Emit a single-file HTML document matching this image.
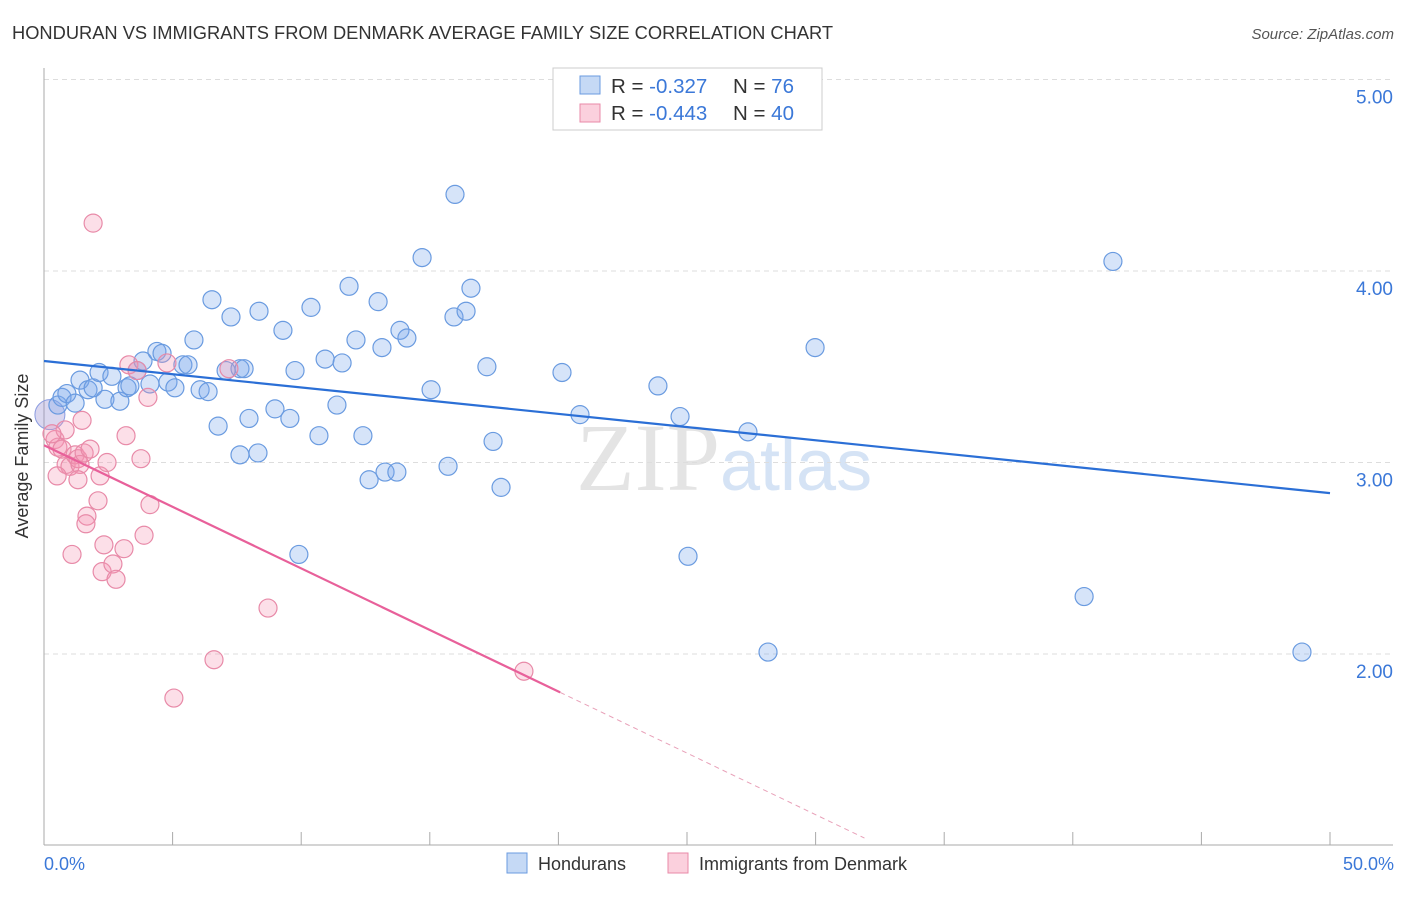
<!DOCTYPE html>
<html><head><meta charset="utf-8"><style>
body{margin:0;background:#fff;font-family:"Liberation Sans",sans-serif;}
</style></head><body>
<svg id="c" width="1406" height="892" xmlns="http://www.w3.org/2000/svg">
<text x="12" y="39" font-size="18.3" fill="#333">HONDURAN VS IMMIGRANTS FROM DENMARK AVERAGE FAMILY SIZE CORRELATION CHART</text>
<text x="1394" y="39" font-size="15" fill="#555" font-style="italic" text-anchor="end">Source: ZipAtlas.com</text>
<text x="720" y="490" font-size="96" font-family="Liberation Serif" fill="#e4e4e4" text-anchor="end">ZIP</text>
<text x="720" y="490" font-size="72" fill="#d5e3f5">atlas</text>
<g id="grid"></g><g id="axes"></g><g id="pts"></g><g id="lines"></g>
<text x="28" y="456" font-size="18" fill="#333" text-anchor="middle" transform="rotate(-90 28 456)">Average Family Size</text>
<text x="44" y="870" font-size="18" fill="#3b78d8">0.0%</text>
<text x="1394" y="870" font-size="18" fill="#3b78d8" text-anchor="end">50.0%</text>
<g>
<rect x="553" y="68" width="269" height="62" fill="#fff" stroke="#ccc"/>
<rect x="580" y="76" width="20" height="18" fill="#c5d9f5" stroke="#6a9be0"/>
<rect x="580" y="104" width="20" height="18" fill="#fbd0dd" stroke="#e88aa8"/>
<text x="611" y="93" font-size="20.5" fill="#333">R = <tspan fill="#3b78d8">-0.327</tspan><tspan x="733">N = </tspan><tspan fill="#3b78d8">76</tspan></text>
<text x="611" y="120" font-size="20.5" fill="#333">R = <tspan fill="#3b78d8">-0.443</tspan><tspan x="733">N = </tspan><tspan fill="#3b78d8">40</tspan></text>
</g>
<g>
<rect x="507" y="853" width="20" height="20" fill="#c5d9f5" stroke="#6a9be0"/>
<text x="538" y="870" font-size="18" fill="#333">Hondurans</text>
<rect x="668" y="853" width="20" height="20" fill="#fbd0dd" stroke="#e88aa8"/>
<text x="699" y="870" font-size="18" fill="#333">Immigrants from Denmark</text>
</g>
</svg>
<script>
const yTicks=[5,4,3,2];
const yTickLabels=["5.00","4.00","3.00","2.00"];
const xTicks=[0,5,10,15,20,25,30,35,40,45,50];
const blueX=[0.54,0.70,0.89,1.21,1.40,1.71,1.91,2.14,2.37,2.64,2.95,3.23,3.34,3.62,3.85,4.12,4.39,4.59,4.82,5.09,5.40,5.60,5.83,6.07,6.38,6.53,6.77,7.08,7.27,7.62,7.78,7.97,7.62,8.36,8.32,8.98,9.29,9.56,9.76,10.38,10.69,10.93,11.39,11.59,11.86,12.13,12.40,12.64,12.99,13.14,13.26,13.72,13.84,14.11,14.70,15.05,15.71,15.94,15.98,16.41,16.60,17.22,17.46,17.77,20.14,20.84,23.87,24.73,25.04,27.37,28.15,29.98,40.44,41.56,48.91,9.91];
const blueY=[3.30,3.34,3.36,3.31,3.43,3.38,3.39,3.47,3.33,3.45,3.32,3.39,3.40,3.48,3.53,3.41,3.58,3.57,3.42,3.39,3.51,3.51,3.64,3.38,3.37,3.85,3.19,3.48,3.76,3.49,3.49,3.23,3.04,3.79,3.05,3.28,3.69,3.23,3.48,3.81,3.14,3.54,3.30,3.52,3.92,3.64,3.14,2.91,3.84,3.60,2.95,2.95,3.69,3.65,4.07,3.38,2.98,3.76,4.40,3.79,3.91,3.50,3.11,2.87,3.47,3.25,3.40,3.24,2.51,3.16,2.01,3.60,2.30,4.05,2.01,2.52];
const pinkX=[0.43,0.54,0.70,0.82,0.86,1.01,1.09,1.21,1.32,1.40,1.48,1.56,1.67,1.79,1.32,0.51,2.10,2.18,2.26,2.33,2.45,2.68,2.80,3.11,3.19,3.30,3.62,3.77,3.89,4.04,4.12,4.78,5.05,6.61,7.19,8.71,18.66,1.91,1.63,0.31];
const pinkY=[3.12,3.08,3.07,3.17,2.99,2.98,2.52,3.04,3.02,2.99,3.22,3.05,2.72,3.07,2.91,2.93,2.80,2.93,2.43,2.57,3.00,2.47,2.39,2.55,3.14,3.51,3.48,3.02,2.62,3.34,2.78,3.52,1.77,1.97,3.49,2.24,1.91,4.25,2.68,3.15];
const blueTrend=[3.53,2.84];
const pinkTrend=[3.09,-0.0643];
const pinkSolidEnd=20.07, pinkDashEnd=31.9;
const NS="http://www.w3.org/2000/svg";
const X=v=>44+v/50*1286;
const Y=v=>271-(v-4)*191.5;
function mk(p,t,a){const e=document.createElementNS(NS,t);for(const k in a)e.setAttribute(k,a[k]);p.appendChild(e);return e;}
const grid=document.getElementById('grid'),axes=document.getElementById('axes'),pts=document.getElementById('pts'),lines=document.getElementById('lines');
yTicks.forEach((t,i)=>{
 const l=mk(grid,'line',{x1:44,x2:1393,y1:Y(t),y2:Y(t),stroke:'#ddd','stroke-dasharray':'5,4'});
 
 
 const tx=mk(grid,'text',{x:1393,y:Y(t)+24,'font-size':19,fill:'#3b78d8','text-anchor':'end'});
 tx.textContent=yTickLabels[i];
 
 
});
const la=mk(axes,'line',{x1:44,x2:44,y1:68,y2:845,stroke:'#aaa'});


const lb=mk(axes,'line',{x1:44,x2:1393,y1:845,y2:845,stroke:'#aaa'});


xTicks.forEach(t=>{
 const k=mk(axes,'line',{x1:X(t),x2:X(t),y1:832,y2:845,stroke:'#aaa'});
 
 
});
const big=mk(pts,'circle',{cx:X(0.23),cy:Y(3.25),r:15,fill:'rgba(150,140,210,0.35)',stroke:'#8a9be0'});


blueX.forEach((x,i)=>{
 const c=mk(pts,'circle',{cx:X(x),cy:Y(blueY[i]),r:9,fill:'rgba(120,165,235,0.3)',stroke:'#6a9be0','stroke-width':1.2});
 
 
});
pinkX.forEach((x,i)=>{
 const c=mk(pts,'circle',{cx:X(x),cy:Y(pinkY[i]),r:9,fill:'rgba(245,150,180,0.3)',stroke:'#e88aa8','stroke-width':1.2});
 
 
});
const bl=mk(lines,'line',{x1:X(0),y1:Y(blueTrend[0]),x2:X(50),y2:Y(blueTrend[1]),stroke:'#2b6fd6','stroke-width':2.2});


const pf=x=>pinkTrend[0]+pinkTrend[1]*x;
const pl=mk(lines,'line',{x1:X(0),y1:Y(pf(0)),x2:X(pinkSolidEnd),y2:Y(pf(pinkSolidEnd)),stroke:'#e8609a','stroke-width':2.2});


const pd=mk(lines,'line',{x1:X(pinkSolidEnd),y1:Y(pf(pinkSolidEnd)),x2:X(pinkDashEnd),y2:Y(pf(pinkDashEnd)),stroke:'#e8a0b8','stroke-width':1,'stroke-dasharray':'5,4'});


</script>
</body></html>
